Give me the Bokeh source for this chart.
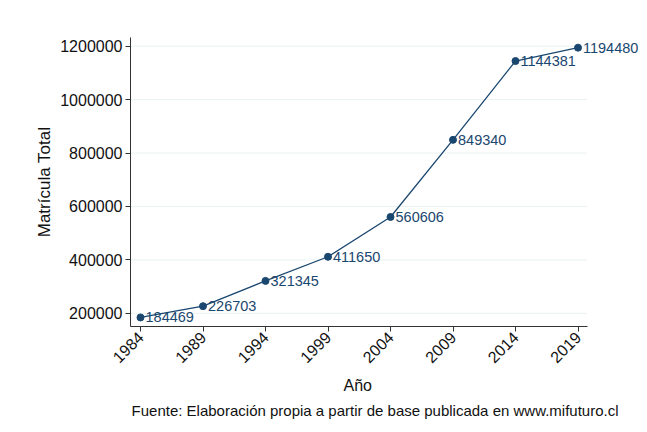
import math
from bokeh.plotting import figure
from bokeh.models import ColumnDataSource, FixedTicker, NumeralTickFormatter, Range1d, LabelSet, Title
from bokeh.core.properties import value
from bokeh.embed import file_html
from bokeh.resources import INLINE

years = [1984, 1989, 1994, 1999, 2004, 2009, 2014, 2019]
matricula = [184469, 226703, 321345, 411650, 560606, 849340, 1144381, 1194480]
y_ticks = [200000, 400000, 600000, 800000, 1000000, 1200000]

COLOR = "#1a476f"
FONT = "Liberation Sans"
X_START, X_AXIS_END, X_END = 1983.2, 2019.74, 2024.24

src = ColumnDataSource(dict(x=years, y=matricula, lab=[str(v) for v in matricula]))

p = figure(width=645, height=430, output_backend="svg", toolbar_location=None,
           x_range=Range1d(X_START, X_END), y_range=Range1d(150600, 1232500),
           min_border_left=130, min_border_right=2, min_border_top=37, min_border_bottom=104)
p.outline_line_color = None
p.background_fill_color = "white"
p.border_fill_color = "white"

# horizontal grid lines limited to the axis extent
p.segment(x0=[X_START] * len(y_ticks), x1=[X_AXIS_END] * len(y_ticks), y0=y_ticks, y1=y_ticks,
          color="#eaf2f3", line_width=1)

p.line("x", "y", source=src, color=COLOR, line_width=1.3)
p.scatter("x", "y", source=src, color=COLOR, size=7)
labels = LabelSet(x="x", y="y", text="lab", source=src, x_offset=5, y_offset=0,
                  text_align="left", text_baseline="middle", text_color=COLOR,
                  text_font=value(FONT), text_font_size="14.5px")
p.add_layout(labels)

p.xaxis.ticker = FixedTicker(ticks=years)
p.xaxis.bounds = (X_START, X_AXIS_END)
p.yaxis.ticker = FixedTicker(ticks=y_ticks)
p.yaxis.formatter = NumeralTickFormatter(format="0")
p.xaxis.major_label_orientation = math.pi / 4

for ax in (p.xaxis, p.yaxis):
    ax.axis_line_color = "#333333"
    ax.major_tick_line_color = "#333333"
    ax.major_tick_out = 5
    ax.major_tick_in = 0
    ax.minor_tick_line_color = None
    ax.major_label_text_font = FONT
    ax.major_label_text_font_size = "16px"
    ax.major_label_text_color = "#111111"
    ax.axis_label_text_font = FONT
    ax.axis_label_text_font_size = "17px"
    ax.axis_label_text_font_style = "normal"
    ax.axis_label_text_color = "#111111"

p.yaxis.major_label_standoff = 3
p.xaxis.major_label_standoff = 3
p.yaxis.axis_label = "Matrícula Total"
p.yaxis.axis_label_standoff = 3

p.xgrid.grid_line_color = None
p.ygrid.grid_line_color = None

t_axis = Title(text="Año", align="left", offset=213, standoff=6,
               text_font=FONT, text_font_size="16px", text_font_style="normal", text_color="#111111")
p.add_layout(t_axis, "below")
t_foot = Title(text="Fuente: Elaboración propia a partir de base publicada en www.mifuturo.cl",
               align="right", offset=25, standoff=6,
               text_font=FONT, text_font_size="15px", text_font_style="normal", text_color="#111111")
p.add_layout(t_foot, "below")

open("out.html", "w").write(file_html(p, INLINE))
